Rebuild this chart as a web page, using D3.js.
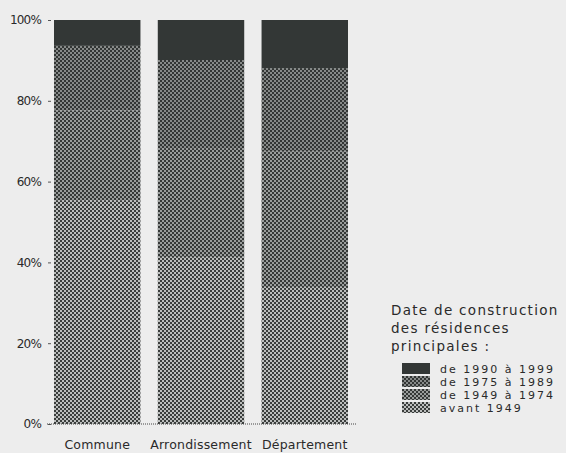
<!DOCTYPE html>
<html>
<head>
<meta charset="utf-8">
<script src="https://d3js.org/d3.v7.min.js"></script>
<style>
  body { margin: 0; background: #ededed; }
  text { font-family: "DejaVu Sans", sans-serif; fill: #2a2a2a; }
</style>
</head>
<body>
<svg id="chart" width="566" height="453"></svg>
<script>
// data (percent of principal residences)
var places = ["Commune", "Arrondissement", "Département"];
var periods = ["avant 1949", "de 1949 à 1974", "de 1975 à 1989", "de 1990 à 1999"];
var avant1949 = [55.4, 41.3, 33.9];
var de1949a1974 = [22.2, 27.0, 33.5];
var de1975a1989 = [16.0, 21.8, 20.7];
var de1990a1999 = [6.4, 9.9, 11.9];
var yTicks = [0, 20, 40, 60, 80, 100];
var legendTitle = ["Date de construction", "des résidences", "principales :"];

var rows = places.map(function(p, i) {
  return { place: p, "avant 1949": avant1949[i], "de 1949 à 1974": de1949a1974[i],
           "de 1975 à 1989": de1975a1989[i], "de 1990 à 1999": de1990a1999[i] };
});

var svg = d3.select("#chart");
svg.append("rect").attr("width", 566).attr("height", 453).attr("fill", "#ededed");

// dither-like fills
var defs = svg.append("defs");
function checker(id, dark, light) {
  var p = defs.append("pattern").attr("id", id).attr("patternUnits", "userSpaceOnUse")
    .attr("width", 4).attr("height", 4);
  p.append("rect").attr("width", 4).attr("height", 4).attr("fill", light);
  p.append("rect").attr("width", 2).attr("height", 2).attr("fill", dark);
  p.append("rect").attr("x", 2).attr("y", 2).attr("width", 2).attr("height", 2).attr("fill", dark);
}
checker("p0", "#3a3d3c", "#bcbebd");
checker("p1", "#353837", "#9a9d9c");
checker("p2", "#323534", "#878a89");
var fills = { "avant 1949": "url(#p0)", "de 1949 à 1974": "url(#p1)",
              "de 1975 à 1989": "url(#p2)", "de 1990 à 1999": "#333736" };

var x = d3.scaleBand().domain(places).range([54, 348]).paddingInner(0.167);
var y = d3.scaleLinear().domain([0, 100]).range([424, 20]);

var stack = d3.stack().keys(periods)(rows);

svg.append("g").selectAll("g").data(stack).enter().append("g")
  .attr("fill", function(d) { return fills[d.key]; })
  .selectAll("rect").data(function(d) { return d; }).enter().append("rect")
  .attr("x", function(d) { return x(d.data.place); })
  .attr("width", x.bandwidth())
  .attr("y", function(d) { return y(d[1]); })
  .attr("height", function(d) { return y(d[0]) - y(d[1]); });

// y axis: labels and small dashes, no domain line
var yAxis = svg.append("g").attr("transform", "translate(51,0)")
  .call(d3.axisLeft(y).tickValues(yTicks).tickSize(3).tickPadding(7)
    .tickFormat(function(d) { return d + "%"; }));
yAxis.select(".domain").remove();
yAxis.selectAll("line").attr("stroke", "#555");
yAxis.selectAll("text").attr("font-size", 12).attr("letter-spacing", -0.8).attr("fill", "#2a2a2a")
  .style("font-family", "'DejaVu Sans', sans-serif");

// baseline
svg.append("line").attr("x1", 47).attr("x2", 356).attr("y1", y(0)).attr("y2", y(0))
  .attr("stroke", "#444").attr("stroke-dasharray", "1,1");

// category labels
svg.append("g").selectAll("text").data(places).enter().append("text")
  .attr("x", function(d) { return x(d) + x.bandwidth() / 2; })
  .attr("y", 449).attr("text-anchor", "middle").attr("font-size", 12.5)
  .attr("letter-spacing", 0.2)
  .text(function(d) { return d; });

// legend
var lg = svg.append("g");
lg.selectAll("text.t").data(legendTitle).enter().append("text").attr("class", "t")
  .attr("x", 391).attr("y", function(d, i) { return 315 + i * 18; })
  .attr("font-size", 13.5).attr("letter-spacing", 1.3)
  .text(function(d) { return d; });

var items = periods.slice().reverse();
var li = lg.selectAll("g.item").data(items).enter().append("g").attr("class", "item")
  .attr("transform", function(d, i) { return "translate(402," + (363 + i * 13) + ")"; });
li.append("rect").attr("width", 28).attr("height", 11)
  .attr("fill", function(d) { return fills[d]; });
li.append("text").attr("x", 38).attr("y", 10).attr("font-size", 11).attr("letter-spacing", 2)
  .text(function(d) { return d; });
</script>
</body>
</html>
